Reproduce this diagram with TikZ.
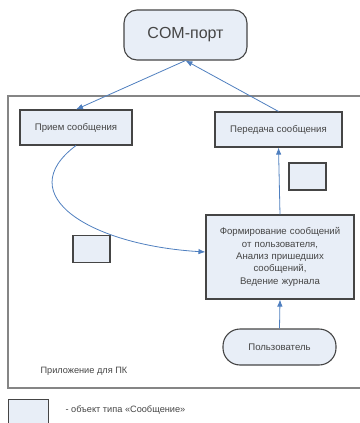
\documentclass[tikz,border=0pt]{standalone}
\usepackage{fontspec}
\setmainfont{Liberation Sans}
\usetikzlibrary{arrows.meta,positioning}
\definecolor{ink}{HTML}{454545}
\definecolor{pale}{HTML}{E8EEF7}
\definecolor{arrowblue}{HTML}{4F7FBF}
\definecolor{frame}{HTML}{858585}

\begin{document}
\begin{tikzpicture}[x=1pt,y=-1pt,>=Latex,
      block/.style={draw=ink,fill=pale,line width=1.1pt,align=center,inner sep=2pt,
                    font=\fontsize{9.6}{12.4}\selectfont,text=ink},
      msgbox/.style={draw=ink,fill=pale,line width=1.1pt,minimum width=37pt,minimum height=27pt},
      term/.style={draw=ink,fill=pale,line width=1.1pt,rounded corners=17pt,align=center,
                    font=\fontsize{9.6}{12}\selectfont,text=ink},
      flow/.style={->,line width=.8pt,draw=arrowblue,arrows={-Latex[length=7pt,width=5.5pt]}},
      note/.style={anchor=west,font=\fontsize{9.2}{11}\selectfont,text=ink}]
    \useasboundingbox (0,0) rectangle (359,423);
    % application frame
    \draw[frame,line width=1.5pt] (8,96) rectangle (364,388);
    \node[note] (app) at (37,371) {Приложение для ПК};
    \node[draw=ink,fill=pale,line width=1.1pt,rounded corners=13pt,minimum width=123pt,
          minimum height=50pt,font=\fontsize{16}{18}\selectfont,text=ink] (com) at (185.5,35) {COM-порт};
    \node[block,minimum width=112pt,minimum height=35pt] (recv) at (76,127.5) {Прием сообщения};
    \node[block,minimum width=127pt,minimum height=35pt] (send) at (278.5,129.5) {Передача сообщения};
    \node[msgbox] (msgA) at (307.5,176.5) {};
    \node[msgbox] (msgB) at (91.5,249) {};
    \node[block,text width=144pt,minimum height=84pt] (core) at (280,257) {Формирование сообщений\\от пользователя,\\Анализ пришедших\\сообщений,\\Ведение журнала};
    \node[term,minimum width=113pt,minimum height=36pt] (user) at (279.5,347) {Пользователь};
    \draw[flow] (com.south) -- (recv.north);
    \draw[flow] (send.north) -- (com.south);
    \draw[flow] (recv.south) .. controls (10,195) and (90,245) .. ([yshift=5pt]core.west);
    \draw[flow] (core.north) -- (send.south);
    \draw[flow] (user.north) -- (core.south);
    % legend
    \node[msgbox,anchor=north west,minimum width=40pt,minimum height=32pt] (legend) at (8,399) {};
    \node[note] (legtxt) at (62,410) {- объект типа «Сообщение»};
    \end{tikzpicture}
\end{document}
